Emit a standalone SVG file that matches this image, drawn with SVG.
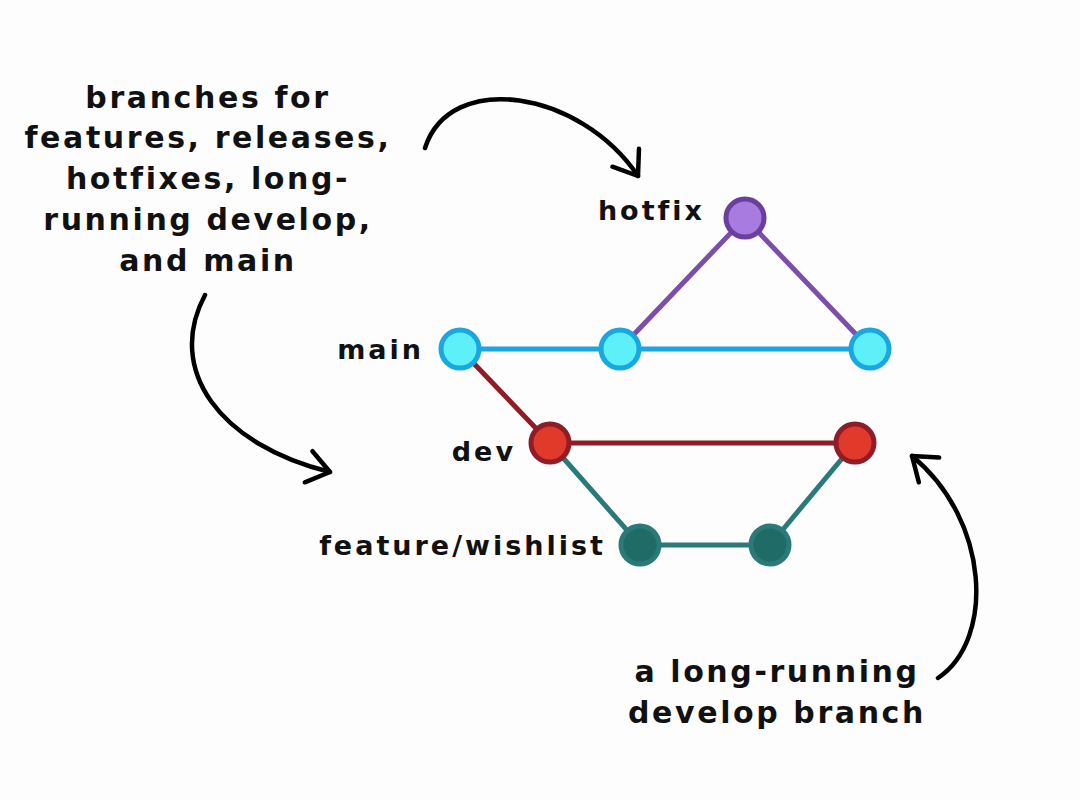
<svg xmlns="http://www.w3.org/2000/svg" width="1080" height="800" viewBox="0 0 1080 800">
<style>
.t{font-family:"Comic Sans MS","DejaVu Sans",sans-serif;font-weight:bold;fill:#111}
.a{font-size:30px;text-anchor:middle;letter-spacing:2.6px}
.l{font-size:27px;text-anchor:end;letter-spacing:3px}
.arr{fill:none;stroke:#000;stroke-width:4.5;stroke-linecap:round}
</style>
<defs>
<marker id="ah" viewBox="-14 -14 34 48" refX="16" refY="10" markerWidth="34" markerHeight="48" markerUnits="userSpaceOnUse" orient="auto" overflow="visible">
<path d="M-6,-6 L16,10 L-6,26" fill="none" stroke="#000" stroke-width="4.5" stroke-linecap="round" stroke-linejoin="round"/>
</marker>
</defs>
<rect width="1080" height="800" fill="#fdfdfd"/>
<g id="connectors" stroke-width="5" fill="none">
<path d="M620,349 L745,218 L870,349" stroke="#7b4fa8"/>
<path d="M460,349 L870,349" stroke="#1aa6e0"/>
<path d="M460,349 L550,443 L855,443" stroke="#8f1c26"/>
<path d="M550,443 L640,545 L770,545 L855,443" stroke="#2a7a7a"/>
<path class="arr" d="M425,148 C450,70 580,90 638,176" marker-end="url(#ah)"/>
<path class="arr" d="M205,295 C165,370 220,445 330,472" marker-end="url(#ah)"/>
<path class="arr" d="M938,678 C995,640 990,520 912,456" marker-end="url(#ah)"/>
</g>
<g id="hotfix"><circle cx="745" cy="218" r="19" fill="#a77be0" stroke="#6a3f9e" stroke-width="5"/></g>
<g id="main1"><circle cx="460" cy="349" r="19" fill="#5ef0f8" stroke="#1aa6e0" stroke-width="5"/></g>
<g id="main2"><circle cx="620" cy="349" r="19" fill="#5ef0f8" stroke="#1aa6e0" stroke-width="5"/></g>
<g id="main3"><circle cx="870" cy="349" r="19" fill="#5ef0f8" stroke="#1aa6e0" stroke-width="5"/></g>
<g id="dev1"><circle cx="550" cy="443" r="19" fill="#e23a2a" stroke="#8f1c26" stroke-width="5"/></g>
<g id="dev2"><circle cx="855" cy="443" r="19" fill="#e23a2a" stroke="#8f1c26" stroke-width="5"/></g>
<g id="feat1"><circle cx="640" cy="545" r="19" fill="#1f6b66" stroke="#2a7a7a" stroke-width="5"/></g>
<g id="feat2"><circle cx="770" cy="545" r="19" fill="#1f6b66" stroke="#2a7a7a" stroke-width="5"/></g>
<g id="labels">
<text class="t l" x="705" y="220">hotfix</text>
<text class="t l" x="424" y="359">main</text>
<text class="t l" x="516" y="461">dev</text>
<text class="t l" x="606" y="555">feature/wishlist</text>
</g>
<g id="note1">
<text class="t a" x="208" y="108">branches for</text>
<text class="t a" x="208" y="148">features, releases,</text>
<text class="t a" x="208" y="189">hotfixes, long-</text>
<text class="t a" x="208" y="230">running develop,</text>
<text class="t a" x="208" y="271">and main</text>
</g>
<g id="note2">
<text class="t a" x="777" y="682">a long-running</text>
<text class="t a" x="777" y="723">develop branch</text>
</g>
</svg>
